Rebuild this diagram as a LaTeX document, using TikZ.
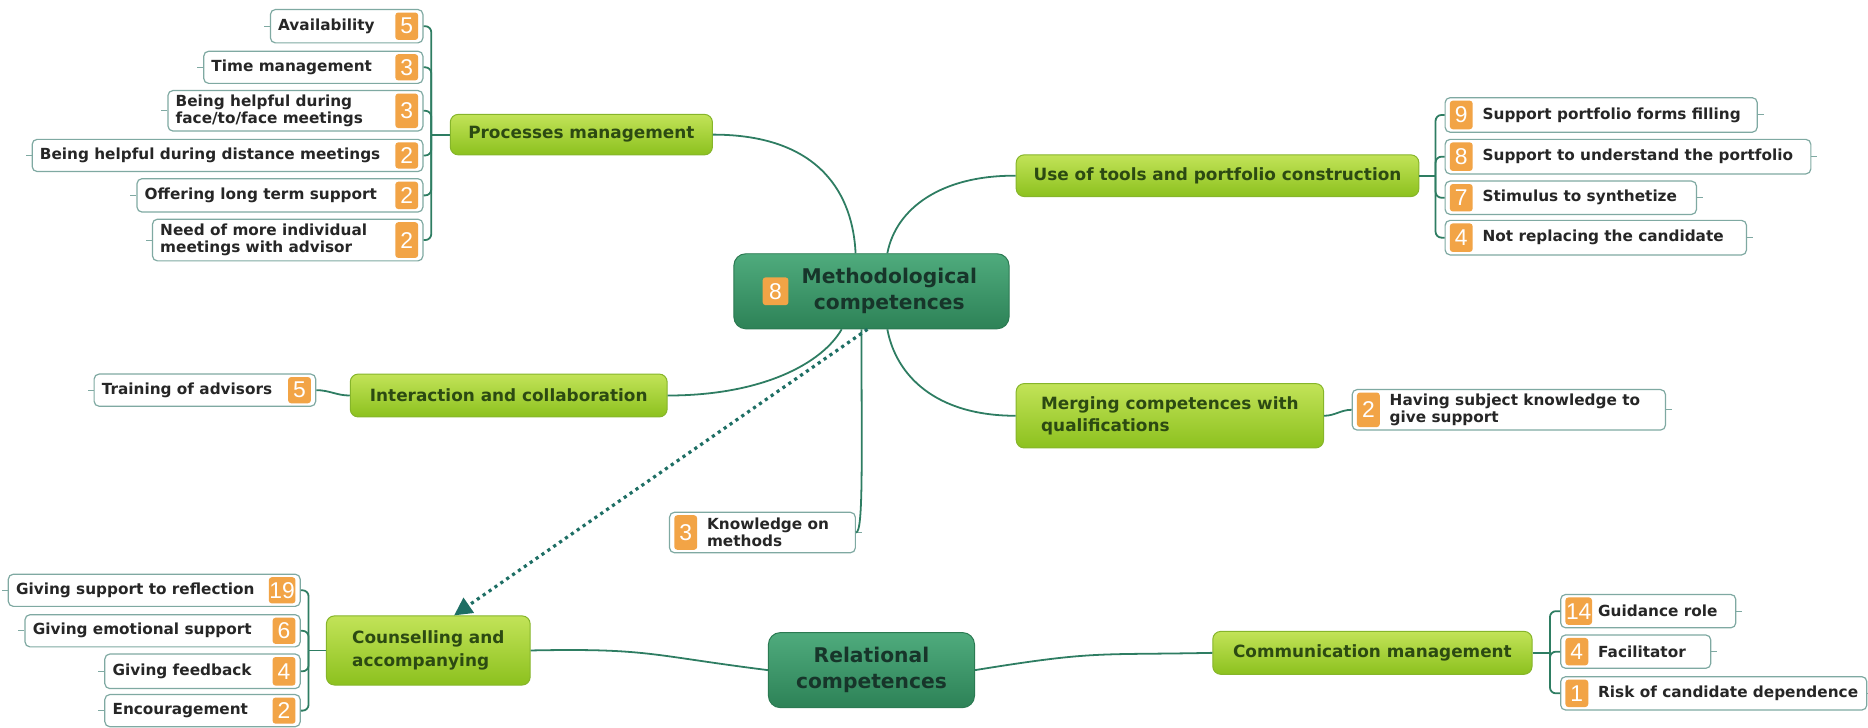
\documentclass[tikz,border=0pt]{standalone}
\usepackage{fontspec}
\setmainfont{DejaVu Sans}
\newfontfamily\badgefont{Liberation Sans}
\usetikzlibrary{fit,arrows.meta}
\definecolor{conncol}{HTML}{2E7D62}
\definecolor{leafdraw}{HTML}{7FA9A2}
\definecolor{badgefill}{HTML}{F2A446}
\definecolor{subtop}{HTML}{C2E358}
\definecolor{subbot}{HTML}{8CC11E}
\definecolor{subdraw}{HTML}{86B52A}
\definecolor{subtext}{HTML}{2C4A12}
\definecolor{maintop}{HTML}{4FAB7D}
\definecolor{mainbot}{HTML}{2D8257}
\definecolor{maindraw}{HTML}{2B7A52}
\definecolor{maintext}{HTML}{17352A}
\definecolor{dotcol}{HTML}{1E6E64}
\tikzset{
  leafbox/.style={draw=leafdraw, fill=white, rounded corners=2.5pt, inner sep=0pt, line width=0.6pt},
  leaftxt/.style={font=\bfseries\fontsize{7.7}{8.8}\selectfont, text=black!85, align=left, inner sep=0pt},
  badge/.style={fill=badgefill, rounded corners=1.5pt, text=white, font=\badgefont\fontsize{11.5}{11.5}\selectfont, minimum width=11.5pt, inner sep=0.3pt},
  subbox/.style={draw=subdraw, top color=subtop, bottom color=subbot, rounded corners=4pt, inner sep=0pt, line width=0.5pt},
  subtxt/.style={font=\bfseries\fontsize{8.5}{11.4}\selectfont, text=subtext, align=left, inner sep=0pt},
  mainbox/.style={draw=maindraw, top color=maintop, bottom color=mainbot, rounded corners=6pt, inner sep=0pt, line width=0.5pt},
  maintxt/.style={font=\bfseries\fontsize{10.2}{13}\selectfont, text=maintext, align=center, inner sep=0pt},
  link/.style={draw=conncol, line width=0.9pt},
  tickline/.style={draw=leafdraw, line width=0.5pt},
}
% left-type leaf: text then badge
\newcommand\leafL[7]{%
  \node[leafbox, fit={(#2,#3) (#4,#5)}] (#1) {};
  \node[badge, minimum height={(#5-#3-5)*0.6pt}, anchor=east] (#1b) at ([xshift=-2.5pt]#1.east) {#7};
  \node[leaftxt, anchor=west] (#1t) at ([xshift=4pt]#1.west) {#6};
  \draw[tickline] (#1.west) -- ++(-5,0);
}
% right-type leaf: badge then text
\newcommand\leafR[7]{%
  \node[leafbox, fit={(#2,#3) (#4,#5)}] (#1) {};
  \node[badge, minimum height={(#5-#3-5)*0.6pt}, anchor=west] (#1b) at ([xshift=2.5pt]#1.west) {#7};
  \node[leaftxt, anchor=west] (#1t) at ([xshift=19pt]#1.west) {#6};
  \draw[tickline] (#1.east) -- ++(5,0);
}
\begin{document}
\begin{tikzpicture}[x=0.6pt,y=-0.6pt]
\useasboundingbox (0,0) rectangle (1568,611);

% ---------- main nodes
\node[mainbox, fit={(616,213) (847,276)}] (meth) {};
\node[maintxt] (metht) at ([xshift=9pt]meth.center) {Methodological\\competences};
\node[badge, minimum height=14pt, minimum width=13pt, font=\badgefont\fontsize{11.5}{11.5}\selectfont] (methb) at (651,244.5) {8};

\node[mainbox, fit={(645,531) (818,594)}] (rel) {};
\node[maintxt] (relt) at (rel.center) {Relational\\competences};

% ---------- sub nodes
\node[subbox, fit={(378,96) (598,130)}] (pm) {};
\node[subtxt] (pmt) at (pm.center) {Processes management};
\node[subbox, fit={(853,130) (1191,165)}] (ut) {};
\node[subtxt] (utt) at (ut.center) {Use of tools and portfolio construction};
\node[subbox, fit={(294,314) (560,350)}] (ic) {};
\node[subtxt] (ict) at (ic.center) {Interaction and collaboration};
\node[subbox, fit={(853,322) (1111,376)}] (mc) {};
\node[subtxt] (mct) at (mc.center) {Merging competences with\\qualifications};
\node[subbox, fit={(274,517) (445,575)}] (ca) {};
\node[subtxt] (cat) at (ca.center) {Counselling and\\accompanying};
\node[subbox, fit={(1018,530) (1286,566)}] (cm) {};
\node[subtxt] (cmt) at (cm.center) {Communication management};

% ---------- leaves
\leafL{p1}{227}{8}{355}{36}{Availability}{5}
\leafL{p2}{171}{43}{355}{70}{Time management}{3}
\leafL{p3}{141}{76}{355}{110}{Being helpful during\\face/to/face meetings}{3}
\leafL{p4}{27}{117}{355}{144}{Being helpful during distance meetings}{2}
\leafL{p5}{115}{150}{355}{178}{Offering long term support}{2}
\leafL{p6}{128}{184}{355}{219}{Need of more individual\\meetings with advisor}{2}

\leafR{u1}{1213}{82}{1475}{111}{Support portfolio forms filling}{9}
\leafR{u2}{1213}{117}{1520}{146}{Support to understand the portfolio}{8}
\leafR{u3}{1213}{152}{1424}{180}{Stimulus to synthetize}{7}
\leafR{u4}{1213}{185}{1466}{214}{Not replacing the candidate}{4}

\leafL{t1}{79}{314}{265}{341}{Training of advisors}{5}
\leafR{m1}{1135}{327}{1398}{361}{Having subject knowledge to\\give support}{2}
\leafR{k1}{562}{430}{718}{464}{Knowledge on\\methods}{3}

\leafL{c1}{7}{482}{252}{509}{Giving support to reflection}{19}
\leafL{c2}{21}{516}{252}{543}{Giving emotional support}{6}
\leafL{c3}{88}{549}{252}{578}{Giving feedback}{4}
\leafL{c4}{88}{583}{252}{610}{Encouragement}{2}

\leafR{r1}{1310}{499}{1457}{527}{Guidance role}{14}
\leafR{r2}{1310}{533}{1436}{561}{Facilitator}{4}
\leafR{r3}{1310}{568}{1567}{596}{Risk of candidate dependence}{1}

% ---------- brackets
\coordinate (pmj) at (362,113);
\foreach \n in {p1,p2,p3,p4,p5,p6} \draw[link, rounded corners=3pt] (\n.east) -| (pmj);
\draw[link] (pmj) -- (pm.west);

\coordinate (utj) at (1205,147.5);
\foreach \n in {u1,u2,u3,u4} \draw[link, rounded corners=3pt] (\n.west) -| (utj);
\draw[link] (ut.east) -- (utj);

\coordinate (caj) at (259,546);
\foreach \n in {c1,c2,c3,c4} \draw[link, rounded corners=3pt] (\n.east) -| (caj);
\draw[link] (caj) -- (ca.west);

\coordinate (cmj) at (1301,548);
\foreach \n in {r1,r2,r3} \draw[link, rounded corners=3pt] (\n.west) -| (cmj);
\draw[link] (cm.east) -- (cmj);

\draw[link] (t1.east) to[out=0,in=180] (ic.west);
\draw[link] (mc.east) to[out=0,in=180] (m1.west);

% ---------- connectors from the centre
\draw[link] (pm.east) .. controls (690,113) and (716,165) .. ([xshift=-8pt]meth.north);
\draw[link] (ut.west) .. controls (790,147) and (752,175) .. ([xshift=8pt]meth.north);
\draw[link] (ic.east) .. controls (640,332) and (690,305) .. ([xshift=-15pt]meth.south);
\draw[link] (mc.west) .. controls (785,349) and (752,315) .. ([xshift=8pt]meth.south);
\draw[link] ([xshift=-5pt]meth.south) .. controls (723,380) and (725,447) .. (k1.east);
\draw[dotcol, line width=1.6pt, dotted, -{Triangle[length=9pt,width=9pt]}] ([xshift=-2pt]meth.south) -- ([xshift=13pt]ca.north);

\draw[link] (ca.east) .. controls (545,544) and (545,550) .. (rel.west);
\draw[link] (rel.east) .. controls (920,546) and (920,550) .. (cm.west);
\end{tikzpicture}
\end{document}
